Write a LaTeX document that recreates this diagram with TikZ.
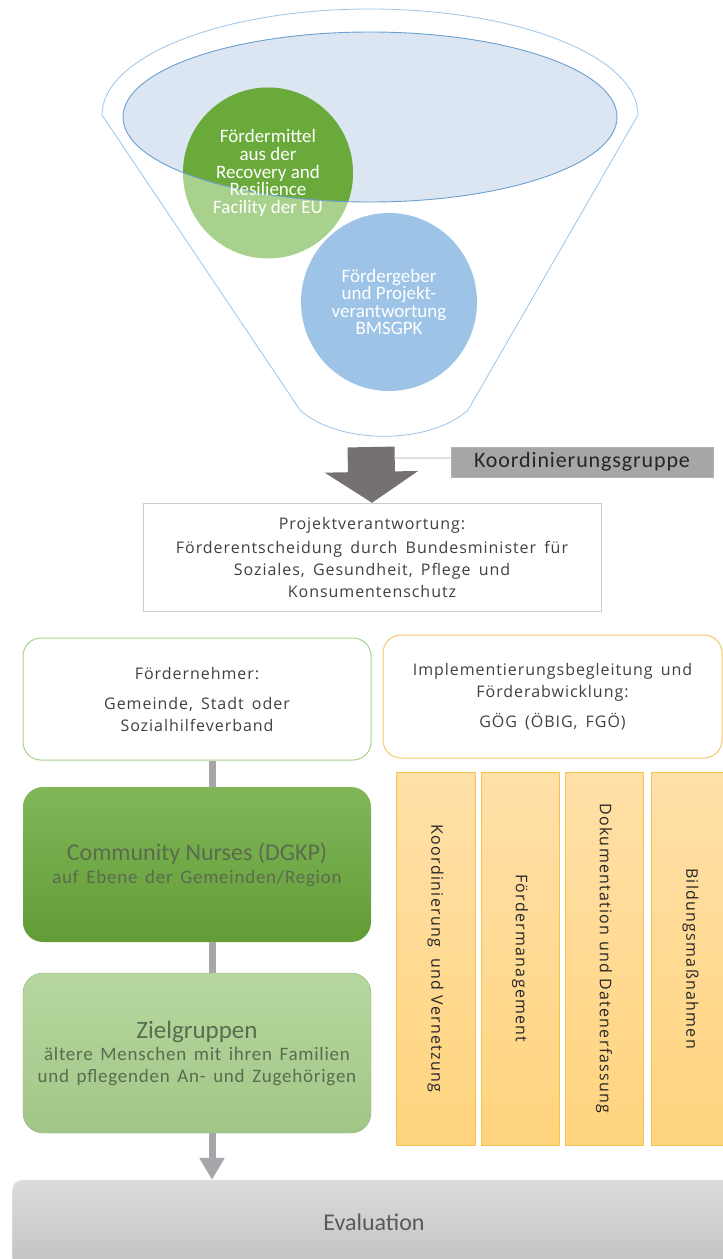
\documentclass[tikz,border=0pt]{standalone}
\usepackage{fontspec}
\setmainfont{Open Sans}
\newfontfamily\boxfont[LetterSpace=6, WordSpace=1.6]{Open Sans}
\newfontfamily\condfont{Carlito}
\newfontfamily\widecond[LetterSpace=4, WordSpace=1.5]{Carlito}
\newfontfamily\barfont[LetterSpace=8]{Open Sans}
\usetikzlibrary{shapes.geometric, arrows.meta}
\definecolor{funnelLine}{HTML}{9DC3E6}
\definecolor{innerFill}{HTML}{DCE6F2}
\definecolor{innerLine}{HTML}{6A9FD0}
\definecolor{greenDark}{HTML}{6AAA3B}
\definecolor{greenLight}{HTML}{A9D18E}
\definecolor{blueCirc}{HTML}{9DC3E6}
\definecolor{arrowGray}{HTML}{767171}
\definecolor{textGray}{HTML}{404040}
\definecolor{linkGray}{HTML}{A7A5AA}
\definecolor{goldLine}{HTML}{F2C14E}
\definecolor{barTop}{HTML}{FFE0A8}
\definecolor{barBottom}{HTML}{FFD47E}
\definecolor{cnText}{HTML}{5A6B4E}

\begin{document}
\begin{tikzpicture}[x=1pt, y=-1pt,
	circ/.style={ellipse, inner sep=0pt, text=white, align=center, font=\condfont\fontsize{19}{17.6}\selectfont},
	plainbox/.style={draw=#1, fill=white, rectangle, align=center, text=textGray, inner sep=0pt, font=\boxfont\fontsize{16}{22}\selectfont},
	greenbox/.style={rectangle, rounded corners=20pt, align=center, inner sep=0pt, minimum width=348pt, text=cnText},
	barbox/.style={draw=goldLine, top color=barTop, bottom color=barBottom, rectangle, inner sep=0pt, minimum height=373pt},
	link/.style={draw=linkGray, line width=7pt},
	bigarrow/.style={draw=arrowGray, line width=47pt, -{Triangle[length=31pt, width=92pt]}}]
	\useasboundingbox (0,0) rectangle (723,1259);
	\clip (0,0) rectangle (723,1259);
	%%%%%%%%%%%%% funnel
	\draw[funnelLine, line width=0.8pt] (102,115) arc[start angle=180, end angle=360, x radius=268, y radius=106]
		-- (468,410) .. controls (430,445) and (338,445) .. (300,410) -- cycle;
	\fill[innerFill] (370,117) ellipse [x radius=247, y radius=85];
	\node[circ, fill=greenLight, minimum width=170pt, minimum height=171pt] (mittel) at (268,173) {};
	\begin{scope}
		\clip (370,117) ellipse [x radius=247, y radius=85];
		\fill[greenDark] (mittel.center) ellipse [x radius=85, y radius=85.5];
	\end{scope}
	\draw[innerLine, line width=0.9pt] (370,117) ellipse [x radius=247, y radius=85];
	\node[circ] at (mittel.center) {Fördermittel\\aus der\\Recovery and\\Resilience\\Facility der EU};
	\node[circ, fill=blueCirc, minimum width=176pt, minimum height=178pt] (geber) at (389,302) {Fördergeber\\und Projekt-\\verantwortung\\BMSGPK};
	%%%%%%%%%%%%% Koordinierung
	\node[plainbox=black!30, fill=black!35, text=black!85, minimum width=262pt, minimum height=30pt,
		font=\widecond\fontsize{22}{22}\selectfont] (koord) at (582,462) {Koordinierungsgruppe};
	\node[plainbox=white!60!gray, minimum width=458pt, minimum height=108pt] (proj) at (372,557)
		{Projektverantwortung:\\[2pt] Förderentscheidung durch Bundesminister für\\Soziales, Gesundheit, Pflege und\\Konsumentenschutz};
	\coordinate (fout) at (371,447);
	\coordinate (ktap) at (395,458);
	\draw[white!75!gray, line width=1.5pt] (ktap) -- (ktap -| koord.west);
	\draw[bigarrow] (fout) -- (proj.north);
	%%%%%%%%%%%%% left column
	\node[plainbox=greenLight, line width=1pt, rounded corners=18pt, minimum width=348pt, minimum height=122pt] (nehmer) at (197,699)
		{Fördernehmer:\\[8pt] Gemeinde, Stadt oder\\Sozialhilfeverband};
	\node[greenbox, top color=greenDark!85!white, bottom color=greenDark!92!black, minimum height=155pt,
		font=\condfont\fontsize{24}{22}\selectfont] (nurses) at (197,864.5)
		{Community Nurses (DGKP)\\[1pt]\widecond\fontsize{19}{19}\selectfont auf Ebene der Gemeinden/Region};
	\node[greenbox, draw=greenLight!85!black, top color=greenLight!85!white, bottom color=greenLight!95!black, minimum height=160pt,
		font=\widecond\fontsize{19}{21.5}\selectfont] (ziel) at (197,1053)
		{\condfont\fontsize{25}{25}\selectfont Zielgruppen\\[1pt] ältere Menschen mit ihren Familien\\und pflegenden An- und Zugehörigen};
	\node[rectangle, draw=black!10, top color=black!14, bottom color=black!24, rounded corners=10pt, minimum width=723pt, minimum height=90pt,
		inner sep=0pt, text=black!65, font=\condfont\fontsize{24}{24}\selectfont] (eval) at (374,1225) {\raisebox{5pt}{Evaluation}};
	\draw[link] ([xshift=15pt]nehmer.south) -- ([xshift=15pt]nurses.north);
	\draw[link] ([xshift=15pt]nurses.south) -- ([xshift=15pt]ziel.north);
	\draw[link, -{Triangle[length=22pt, width=24pt]}] ([xshift=15pt]ziel.south) -- ([xshift=15pt]ziel.south |- eval.north);
	%%%%%%%%%%%%% right column
	\node[plainbox=goldLine!85!white, line width=1pt, rounded corners=18pt, minimum width=339pt, minimum height=123pt] (impl) at (552.5,696.5)
		{Implementierungsbegleitung und\\Förderabwicklung:\\[8pt] GÖG (ÖBIG, FGÖ)};
	\node[barbox, minimum width=79pt] (bar1) at (435.5,958.5) {};
	\node[barbox, minimum width=78pt] (bar2) at (520,958.5) {};
	\node[barbox, minimum width=78pt] (bar3) at (604,958.5) {};
	\node[barbox, minimum width=79pt] (bar4) at (690.5,958.5) {};
	\foreach \b/\t in {bar1/Koordinierung\ \ und Vernetzung, bar2/Fördermanagement, bar3/Dokumentation und Datenerfassung, bar4/Bildungsmaßnahmen}
		\node[rotate=-90, text=black!85, font=\barfont\fontsize{16}{16}\selectfont] at (\b.center) {\t};
\end{tikzpicture}
\end{document}
